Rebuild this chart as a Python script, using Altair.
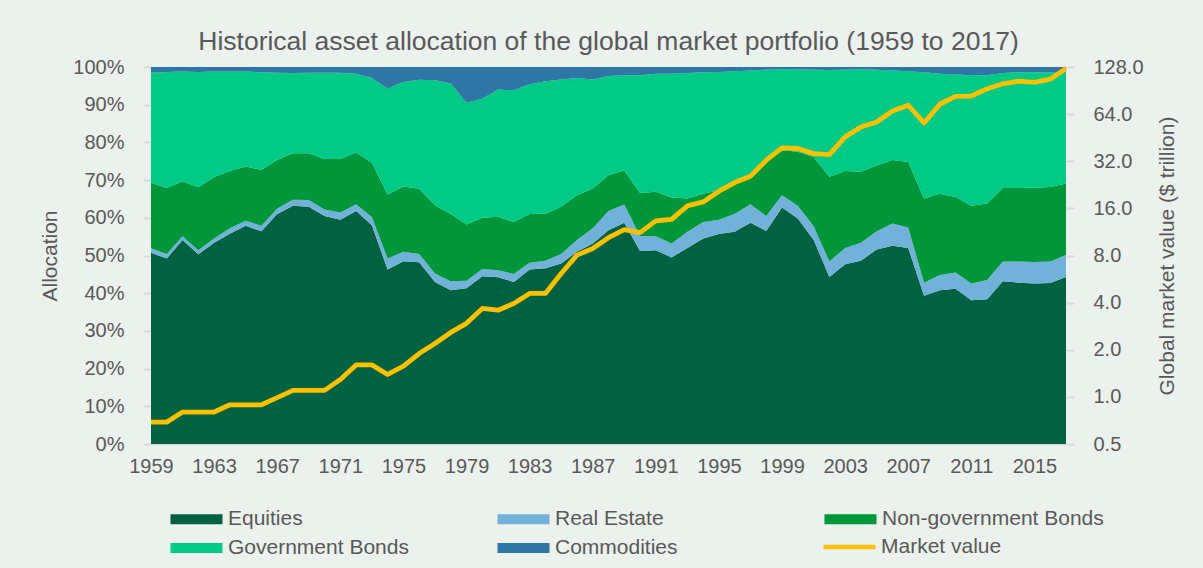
import altair as alt
import pandas as pd

years = list(range(1959, 2018))

equities = [50.7, 49.2, 54.1, 50.3, 53.4, 55.8, 57.9, 56.4, 61.0, 63.2,
            62.9, 60.5, 59.5, 61.8, 58.0, 46.3, 48.5, 48.2, 43.0, 40.8,
            41.3, 44.5, 44.2, 43.0, 46.3, 46.6, 47.9, 51.0, 53.2, 56.7,
            58.7, 51.2, 51.4, 49.5, 52.0, 54.5, 55.7, 56.3, 58.7, 56.5,
            62.7, 59.8, 54.2, 44.3, 47.7, 48.6, 51.6, 52.6, 52.0, 39.3,
            40.8, 41.2, 38.1, 38.4, 43.2, 42.8, 42.6, 42.7, 44.3]
real_estate = [1.2, 1.2, 1.0, 1.1, 1.1, 1.4, 1.3, 1.5, 1.5, 1.6,
               1.8, 1.7, 1.9, 1.8, 2.2, 2.9, 2.5, 2.2, 2.2, 2.4,
               2.0, 1.9, 1.9, 2.1, 1.8, 2.0, 2.5, 3.1, 4.0, 5.1,
               4.8, 4.0, 3.7, 3.7, 4.3, 4.4, 3.8, 4.8, 4.9, 4.0,
               3.3, 3.4, 3.6, 4.1, 4.3, 4.8, 4.8, 5.9, 5.4, 3.5,
               4.0, 4.3, 4.5, 5.1, 5.2, 5.6, 5.7, 5.7, 5.8]
nongov_bonds = [17.4, 17.5, 14.6, 16.7, 16.3, 15.2, 14.4, 14.8, 12.9, 12.3,
                12.4, 13.4, 14.2, 13.7, 14.4, 17.0, 17.3, 17.3, 18.1, 17.8,
                14.9, 13.6, 14.2, 13.8, 12.9, 12.5, 12.5, 11.9, 10.6, 9.5,
                9.1, 11.4, 11.8, 12.2, 8.8, 7.5, 7.8, 8.0, 7.7, 14.3,
                11.9, 14.3, 18.3, 22.5, 20.4, 18.8, 17.5, 16.8, 17.4, 22.3,
                21.6, 20.0, 20.6, 20.3, 19.5, 19.5, 19.7, 19.8, 19.0]
gov_bonds = [29.2, 30.8, 29.1, 30.6, 28.0, 26.4, 25.2, 25.9, 23.1, 21.3,
             21.4, 22.9, 22.9, 20.9, 22.5, 28.1, 27.7, 28.9, 33.2, 34.6,
             32.3, 31.6, 33.7, 34.9, 34.4, 35.1, 33.8, 31.1, 28.9, 26.3,
             25.2, 31.2, 31.3, 32.8, 33.3, 32.2, 31.4, 29.8, 27.8, 24.5,
             21.5, 21.9, 23.2, 28.3, 26.9, 27.2, 25.4, 23.8, 24.1, 33.5,
             31.8, 32.5, 34.6, 34.0, 30.5, 30.7, 30.6, 30.4, 29.7]
commodities = [1.5, 1.3, 1.2, 1.3, 1.2, 1.2, 1.2, 1.4, 1.5, 1.6,
               1.5, 1.5, 1.5, 1.8, 2.9, 5.7, 4.0, 3.4, 3.5, 4.4,
               9.5, 8.4, 6.0, 6.2, 4.6, 3.8, 3.3, 2.9, 3.3, 2.4,
               2.2, 2.2, 1.8, 1.8, 1.6, 1.4, 1.3, 1.1, 0.9, 0.7,
               0.6, 0.6, 0.7, 0.8, 0.7, 0.6, 0.7, 0.9, 1.1, 1.4,
               1.8, 2.0, 2.2, 2.2, 1.6, 1.4, 1.4, 1.4, 1.2]
market_value = [0.69, 0.69, 0.80, 0.80, 0.80, 0.89, 0.89, 0.89, 0.99, 1.10,
                1.10, 1.10, 1.29, 1.60, 1.60, 1.39, 1.57, 1.89, 2.19, 2.58,
                2.95, 3.67, 3.58, 3.95, 4.58, 4.58, 6.14, 8.04, 8.87, 10.4,
                11.7, 11.2, 13.3, 13.6, 16.6, 17.6, 20.6, 23.4, 25.7, 32.5,
                39.0, 38.6, 35.8, 35.3, 45.8, 53.0, 57.0, 67.0, 72.9, 56.2,
                74.0, 83.0, 83.5, 93.0, 100.0, 104.0, 102.0, 107.0, 125.0]

asset_names = ["Equities", "Real Estate", "Non-government Bonds",
               "Government Bonds", "Commodities"]
asset_colors = ["#006241", "#72B1D9", "#00963A", "#00CA86", "#2E76A6"]
line_name = "Market value"
line_color = "#FFC000"
x_ticks = list(range(1959, 2017, 4))
right_ticks = [0.5, 1, 2, 4, 8, 16, 32, 64, 128]
pct_ticks = [i / 10 for i in range(11)]

TXT = "#595959"
FONT = "Liberation Sans"
BG = "#EBF1EC"

series = [equities, real_estate, nongov_bonds, gov_bonds, commodities]
rows = []
for k, (name, vals) in enumerate(zip(asset_names, series)):
    for y, v in zip(years, vals):
        rows.append({"year": y, "asset": name, "share": v / 100.0, "ord": k})
area_df = pd.DataFrame(rows)
mv_df = pd.DataFrame({"year": years, "series": line_name, "value": market_value})

x_enc = alt.X("year:Q", scale=alt.Scale(domain=[1959, 2017], nice=False, zero=False),
              axis=alt.Axis(values=x_ticks, format="d", title=None, ticks=False,
                            tickSize=0, labelPadding=12, domain=True,
                            domainColor="#D9D9D9", domainWidth=2,
                            labelFontSize=20, labelColor=TXT, labelFont=FONT,
                            grid=False, labelFlush=False))

rect_path = "M-1,-1L9.4,-1L9.4,1L-1,1Z"
line_path = "M-1,-0.45L9.4,-0.45L9.4,0.45L-1,0.45Z"

LEG_X = 14
LEG_Y = 441.5
ROW_STEP = 28

area_legend = alt.Legend(
    title=None, orient="none", legendX=LEG_X, legendY=LEG_Y, columns=3,
    direction="horizontal",
    gridAlign="all", columnPadding=42, rowPadding=7, symbolSize=100,
    symbolType=rect_path, symbolStrokeWidth=0, symbolOpacity=1,
    labelOffset=42, labelFontSize=21, labelColor=TXT, labelFont=FONT,
    labelLimit=400, padding=0)

line_legend = alt.Legend(
    title=None, orient="none", legendX=LEG_X + 653, legendY=LEG_Y + ROW_STEP,
    symbolSize=100, symbolType=line_path, symbolFillColor=line_color,
    symbolStrokeWidth=0, symbolOpacity=1,
    labelOffset=42, labelFontSize=21, labelColor=TXT, labelFont=FONT,
    labelLimit=400, padding=0)

area = alt.Chart(area_df).mark_area(opacity=1, interpolate="linear").encode(
    x=x_enc,
    y=alt.Y("share:Q", stack="zero", scale=alt.Scale(domain=[0, 1], nice=False),
            axis=alt.Axis(values=pct_ticks, format=".0%", title="Allocation",
                          orient="left", domain=False, ticks=True, tickSize=8,
                          tickColor="#D9D9D9", tickWidth=2, labelPadding=19,
                          labelFontSize=20, labelColor=TXT, labelFont=FONT,
                          titleFontSize=21, titleColor=TXT, titleFont=FONT,
                          titleFontWeight="normal", titlePadding=12, grid=False)),
    color=alt.Color("asset:N", scale=alt.Scale(domain=asset_names, range=asset_colors),
                    legend=area_legend),
    order=alt.Order("ord:Q", sort="ascending"),
)

line = alt.Chart(mv_df).mark_line(strokeWidth=4.8, strokeJoin="round").encode(
    x=alt.X("year:Q", scale=alt.Scale(domain=[1959, 2017], nice=False, zero=False)),
    y=alt.Y("value:Q", scale=alt.Scale(type="log", base=2, domain=[0.5, 128], nice=False),
            axis=alt.Axis(values=right_ticks, format=".1f",
                          title="Global market value ($ trillion)",
                          orient="right", domain=False, ticks=True, tickSize=8,
                          tickColor="#D9D9D9", tickWidth=2, labelPadding=19,
                          labelFontSize=20, labelColor=TXT, labelFont=FONT,
                          titleFontSize=21, titleColor=TXT, titleFont=FONT,
                          titleFontWeight="normal", titlePadding=13,
                          titleAngle=270, titleBaseline="top", grid=False)),
    color=alt.Color("series:N", scale=alt.Scale(domain=[line_name], range=[line_color]),
                    legend=line_legend),
)

chart = alt.layer(area, line).resolve_scale(y="independent", color="independent").properties(
    width=915, height=377,
    autosize=alt.AutoSizeParams(type="none"),
    padding={"left": 143, "top": 59, "right": 121, "bottom": 114},
    background=BG,
    title=alt.TitleParams(
        "Historical asset allocation of the global market portfolio (1959 to 2017)",
        fontSize=26.5, color=TXT, font=FONT, fontWeight="normal",
        anchor="middle", offset=2),
).configure_view(stroke=None)


class _PageBackground:
    """Wraps Altair's standard HTML template to tint the page margin too."""
    def __init__(self, base):
        self.base = base

    def render(self, *args, **kwargs):
        html = self.base.render(*args, **kwargs)
        style = "<style>html, body { background: %s; }</style>" % BG
        return html.replace("<head>", "<head>\n" + style, 1)


try:
    from altair.utils.html import TEMPLATES
    chart.save("out.html", embed_options={"renderer": "svg", "actions": False},
               template=_PageBackground(TEMPLATES["standard"]))
except Exception:
    chart.save("out.html", embed_options={"renderer": "svg", "actions": False})
